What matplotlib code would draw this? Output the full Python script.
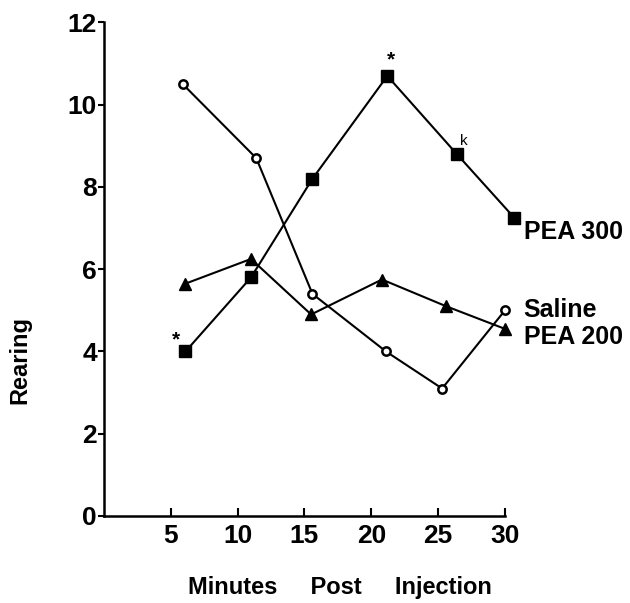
import matplotlib.pyplot as plt

# data (minutes post injection, rearing counts)
saline_x = [5.9, 11.4, 15.6, 21.1, 25.3, 30.0]
saline_y = [10.5, 8.7, 5.4, 4.0, 3.1, 5.0]

pea300_x = [6.1, 11.0, 15.6, 21.2, 26.4, 30.7]
pea300_y = [4.0, 5.8, 8.2, 10.7, 8.8, 7.25]

pea200_x = [6.1, 11.0, 15.5, 20.8, 25.6, 30.0]
pea200_y = [5.65, 6.25, 4.9, 5.75, 5.1, 4.55]

x_ticks = [5, 10, 15, 20, 25, 30]
y_ticks = [0, 2, 4, 6, 8, 10, 12]

plt.rcParams['font.family'] = ['Liberation Sans', 'DejaVu Sans']

fig = plt.figure(figsize=(6.3, 6.03), dpi=100)
ax = fig.add_axes([0.165, 0.1443, 0.6365, 0.8184])

ax.plot(saline_x, saline_y, '-o', color='black', lw=1.5, ms=6,
        mfc='white', mec='black', mew=1.8, clip_on=False, zorder=3)
ax.plot(pea300_x, pea300_y, '-s', color='black', lw=1.5, ms=8, clip_on=False, zorder=3)
ax.plot(pea200_x, pea200_y, '-^', color='black', lw=1.5, ms=8, clip_on=False, zorder=3)

# significance marks
ax.text(pea300_x[0] - 0.7, pea300_y[0] + 0.05, '*', fontsize=15, fontweight='bold', ha='center', va='bottom')
ax.text(pea300_x[3] + 0.3, pea300_y[3] + 0.15, '*', fontsize=15, fontweight='bold', ha='center', va='bottom')
ax.text(pea300_x[4] + 0.5, pea300_y[4] + 0.15, 'k', fontsize=11, ha='center', va='bottom')

# series labels at line ends
ax.text(31.4, 6.9, 'PEA 300', fontsize=18, fontweight='bold', ha='left', va='center')
ax.text(31.4, 5.0, 'Saline', fontsize=18, fontweight='bold', ha='left', va='center')
ax.text(31.4, 4.35, 'PEA 200', fontsize=18, fontweight='bold', ha='left', va='center')

ax.set_xlim(0, 30)
ax.set_ylim(0, 12)
ax.set_xticks(x_ticks)
ax.set_yticks(y_ticks)
ax.tick_params(axis='x', direction='in', length=6, width=1.5, pad=6, labelsize=19)
ax.tick_params(axis='y', direction='out', length=4, width=1.5, pad=1, labelsize=19)
for lab in ax.get_xticklabels() + ax.get_yticklabels():
    lab.set_fontweight('bold')

ax.spines['top'].set_visible(False)
ax.spines['right'].set_visible(False)
ax.spines['left'].set_linewidth(1.8)
ax.spines['bottom'].set_linewidth(1.8)

# axis titles placed in figure coordinates
fig.text(0.032, 0.403, 'Rearing', fontsize=17, fontweight='bold',
         rotation=90, ha='center', va='center')
fig.text(0.54, 0.025, 'Minutes     Post     Injection', fontsize=17,
         fontweight='bold', ha='center', va='center')

fig.savefig('out.png', dpi=100)
